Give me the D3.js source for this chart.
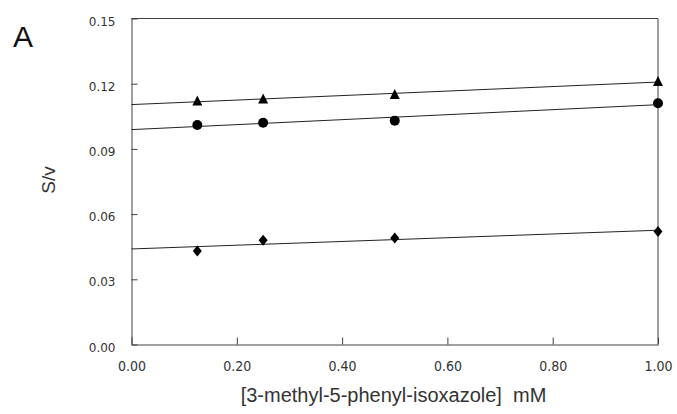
<!DOCTYPE html>
<html>
<head>
<meta charset="utf-8">
<script src="https://d3js.org/d3.v7.min.js"></script>
<style>
  html, body { margin: 0; padding: 0; background: #fff; }
  svg { display: block; }
</style>
</head>
<body>
<script>
// Substrate concentrations, mM
const concentrations = [0.125, 0.25, 0.5, 1.0];

// S/v values for each series
const triangleValues = [0.112, 0.113, 0.115, 0.121];
const circleValues   = [0.101, 0.102, 0.103, 0.111];
const diamondValues  = [0.043, 0.048, 0.049, 0.052];

// Axis ticks
const xTicks = [0, 0.2, 0.4, 0.6, 0.8, 1.0];
const yTicks = [0, 0.03, 0.06, 0.09, 0.12, 0.15];

const W = 677, H = 414;
const margin = { left: 131.5, top: 18.5, right: 19, bottom: 69.5 };

const svg = d3.select("body").append("svg")
  .attr("width", W).attr("height", H);

const x = d3.scaleLinear().domain([0, 1]).range([margin.left, W - margin.right]);
const y = d3.scaleLinear().domain([0, 0.15]).range([H - margin.bottom, margin.top]);

const axisColor = "#404040";
const textColor = "#333";

// Least-squares fit, drawn over the full x range
function fit(xs, ys) {
  const mx = d3.mean(xs), my = d3.mean(ys);
  let sxy = 0, sxx = 0;
  xs.forEach((v, i) => { sxy += (v - mx) * (ys[i] - my); sxx += (v - mx) * (v - mx); });
  const slope = sxy / sxx;
  return { slope, intercept: my - slope * mx };
}

// Frame (top and right edges)
svg.append("path")
  .attr("d", `M${x(0)},${y(0.15)}H${x(1)}V${y(0)}`)
  .attr("fill", "none").attr("stroke", axisColor).attr("stroke-width", 1);

// Axes with inward ticks
const xAxis = svg.append("g")
  .attr("transform", `translate(0,${y(0)})`)
  .call(d3.axisBottom(x).tickValues(xTicks).tickFormat(d3.format(".2f"))
    .tickSize(-7).tickSizeOuter(0).tickPadding(17));
xAxis.selectAll("text")
  .attr("fill", textColor)
  .style("font-family", "'DejaVu Sans Condensed', 'DejaVu Sans', sans-serif")
  .style("font-stretch", "condensed")
  .style("font-size", "14px");

const yAxis = svg.append("g")
  .attr("transform", `translate(${x(0)},0)`)
  .call(d3.axisLeft(y).tickValues(yTicks).tickFormat(d3.format(".2f"))
    .tickSize(-6).tickSizeOuter(0).tickPadding(16));
yAxis.selectAll("text")
  .attr("fill", textColor)
  .attr("dy", "0.55em")
  .style("font-family", "'DejaVu Sans', sans-serif")
  .style("font-size", "12px");

[xAxis, yAxis].forEach(g => {
  g.select(".domain").attr("stroke", axisColor);
  g.selectAll(".tick line").attr("stroke", axisColor);
});

// Series
const series = [
  { name: "triangle", values: triangleValues,
    shape: "M0,-5.5L5,4.5L-5,4.5Z" },
  { name: "circle", values: circleValues,
    shape: d3.symbol(d3.symbolCircle, Math.PI * 25)() },
  { name: "diamond", values: diamondValues,
    shape: "M0,-5.5L4.5,0L0,5.5L-4.5,0Z" }
];

const plot = svg.append("g");

series.forEach(s => {
  const f = fit(concentrations, s.values);
  plot.append("line")
    .attr("x1", x(0)).attr("y1", y(f.intercept))
    .attr("x2", x(1)).attr("y2", y(f.intercept + f.slope))
    .attr("stroke", "#222").attr("stroke-width", 1);

  plot.selectAll(null)
    .data(concentrations.map((c, i) => [c, s.values[i]]))
    .join("path")
    .attr("d", s.shape)
    .attr("transform", d => `translate(${x(d[0])},${y(d[1])})`)
    .attr("fill", "#000");
});

// Panel letter
svg.append("text")
  .attr("x", 13).attr("y", 47)
  .style("font-family", "'Liberation Sans', Arial, sans-serif")
  .style("font-size", "30px")
  .attr("fill", "#111")
  .text("A");

// Axis titles
svg.append("text")
  .attr("transform", "translate(55,180) rotate(-90)")
  .attr("text-anchor", "middle")
  .style("font-family", "'Liberation Sans', Arial, sans-serif")
  .style("font-size", "19px")
  .attr("fill", textColor)
  .text("S/v");

svg.append("text")
  .attr("x", 393.5).attr("y", 401.5)
  .attr("text-anchor", "middle")
  .style("font-family", "'Liberation Sans', Arial, sans-serif")
  .style("font-size", "20px")
  .style("white-space", "pre")
  .attr("fill", textColor)
  .text("[3-methyl-5-phenyl-isoxazole]  mM");
</script>
</body>
</html>
